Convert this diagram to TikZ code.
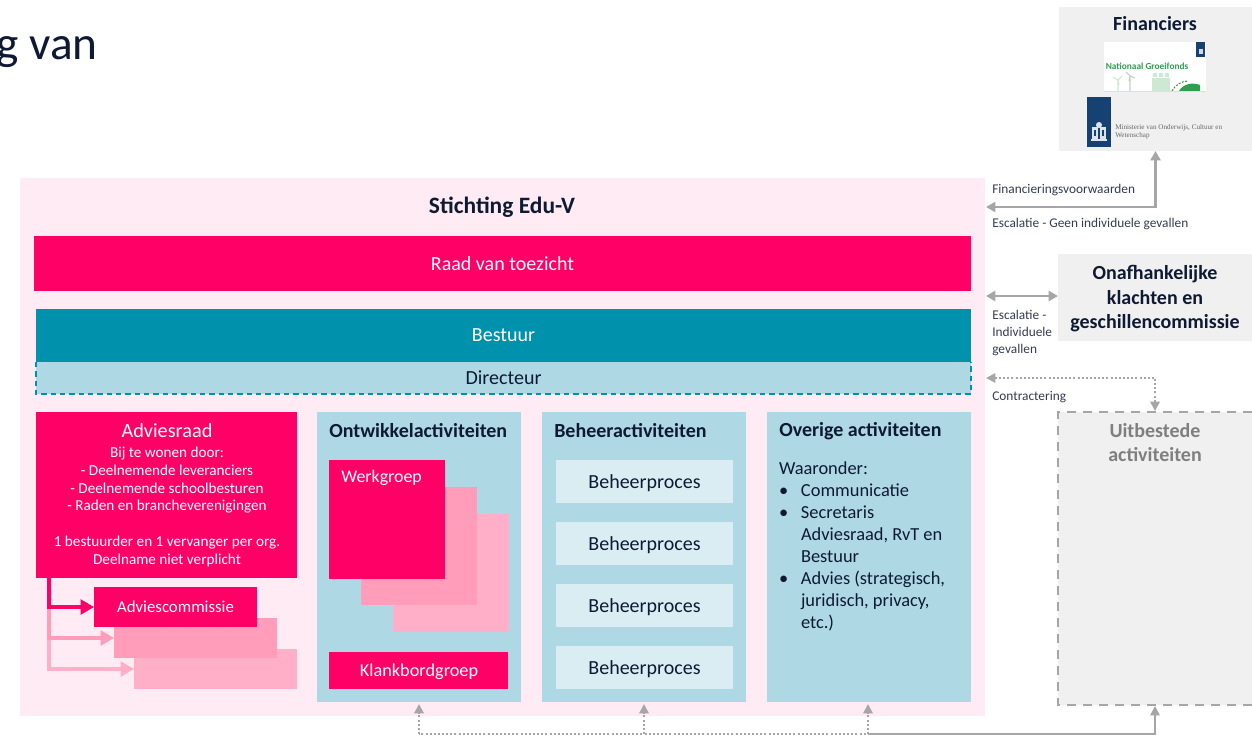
\documentclass[tikz,border=0pt]{standalone}
\usepackage{fontspec}
\setmainfont{Carlito}
\newfontfamily\logoserif{Liberation Serif}
\usetikzlibrary{arrows.meta,calc}
\definecolor{pinkbg}{HTML}{FEEBF3}
\definecolor{hot}{HTML}{FF0066}
\definecolor{hotb}{HTML}{FF9DBB}
\definecolor{hotc}{HTML}{FFAFC8}
\definecolor{teal}{HTML}{0091AC}
\definecolor{lblue}{HTML}{AED8E3}
\definecolor{pale}{HTML}{DAEDF3}
\definecolor{greybox}{HTML}{F0F0F0}
\definecolor{conn}{HTML}{A6A6A6}
\definecolor{ink}{HTML}{0E1A33}
\definecolor{nblue}{HTML}{154273}
\definecolor{ngreen}{HTML}{2E9E4F}
\definecolor{lgreen}{HTML}{CDE8D3}
\definecolor{uitgrey}{HTML}{7F7F7F}
\tikzset{
  x=0.75pt,y=-0.75pt,
  block/.style={draw=none,inner sep=0pt,outer sep=0pt,anchor=north west},
  txt/.style={text=ink,inner sep=0pt,outer sep=0pt},
  fs15/.style={font=\fontsize{15}{17}\selectfont},
  hd/.style={text=ink,inner sep=0pt,font=\fontsize{15}{17}\selectfont\bfseries},
  note/.style={text=ink!85,inner sep=0pt,anchor=west,align=left,font=\fontsize{10}{12.4}\selectfont},
  solidc/.style={draw=conn,line width=2pt,{Triangle[length=7pt,width=7.5pt]}-{Triangle[length=7pt,width=7.5pt]}},
  dotc/.style={draw=conn,line width=1.5pt,dash pattern=on 1.5pt off 1.6pt,{Triangle[length=7pt,width=7pt]}-{Triangle[length=7pt,width=7pt]}},
  dotup/.style={draw=conn,line width=1.5pt,dash pattern=on 1.5pt off 1.6pt,-{Triangle[length=7pt,width=7pt]}},
  busline/.style={draw=conn,line width=1.5pt,dash pattern=on 1.5pt off 1.6pt},
  pinkarrow/.style={line width=3pt,-{Triangle[length=10pt,width=11pt]}},
}
\begin{document}
\begin{tikzpicture}
\useasboundingbox (0,0) rectangle (1252,735);
% clipped heading
\begin{scope}
\clip (0,0) rectangle (1252,735);
\node[text=ink,inner sep=0pt,anchor=base east,font=\fontsize{35.5}{40}\selectfont] (heading) at (98,60) {g van};
\end{scope}
% main pink panel
\fill[pinkbg] (20,178) rectangle (985,716);
\coordinate (stichting) at (502,207);
\node[hd,font=\fontsize{17.6}{20}\selectfont\bfseries] (title) at (stichting) {Stichting Edu-V};
\node[block,fill=hot,minimum width=937*0.75pt,minimum height=55*0.75pt] (raad) at (34,236) {};
\node[text=white,fs15,inner sep=0pt] (raadt) at (raad) {Raad van toezicht};
\node[block,fill=teal,minimum width=935*0.75pt,minimum height=53*0.75pt] (bestuur) at (36,309) {};
\node[text=white,fs15,inner sep=0pt] (bestuurt) at (bestuur) {Bestuur};
\node[block,fill=lblue,minimum width=935*0.75pt,minimum height=32*0.75pt] (dir) at (36,362) {};
\draw[teal,line width=1pt,dash pattern=on 4pt off 3pt] (dir.north west) -- (dir.south west) -- (dir.south east) -- (dir.north east);
\node[txt,fs15] (dirt) at (dir) {Directeur};
% Adviesraad
\node[block,fill=hotc,minimum width=163*0.75pt,minimum height=40*0.75pt] (ac3) at (134,649) {};
\node[block,fill=hotb,minimum width=163*0.75pt,minimum height=40*0.75pt] (ac2) at (114,618) {};
\node[block,fill=hot,minimum width=163*0.75pt,minimum height=40*0.75pt] (ac1) at (94,587) {};
\node[text=white,inner sep=0pt] (ac1t) at (ac1) {\fontsize{12.6}{15}\selectfont Adviescommissie};
\node[block,fill=hot,minimum width=261*0.75pt,minimum height=166*0.75pt] (adv) at (36,412) {};
\node[text=white,inner sep=0pt,anchor=north,align=center,font=\fontsize{11.4}{13.35}\selectfont] (advt) at (167,423)
 {{\fontsize{15.2}{18}\selectfont Adviesraad}\\[1.8pt]Bij te wonen door:\\- Deelnemende leveranciers\\- Deelnemende schoolbesturen\\- Raden en brancheverenigingen\\[13.35pt]1 bestuurder en 1 vervanger per org.\\Deelname niet verplicht};
\coordinate (fork) at (49,578);
\coordinate (forkb) at (49,605);
\draw[hotc,pinkarrow] (forkb) |- (ac3.west);
\draw[hotb,pinkarrow] (forkb) |- (ac2.west);
\draw[hot,pinkarrow] (fork) |- (ac1.west);
% Ontwikkel
\node[block,fill=lblue,minimum width=204*0.75pt,minimum height=290*0.75pt] (ont) at (317,412) {};
\node[hd,anchor=west] (ontt) at (329,431) {Ontwikkelactiviteiten};
\node[block,fill=hotc,minimum width=116*0.75pt,minimum height=118*0.75pt] (wg3) at (393,514) {};
\node[block,fill=hotb,minimum width=116*0.75pt,minimum height=118*0.75pt] (wg2) at (361,487) {};
\node[block,fill=hot,minimum width=116*0.75pt,minimum height=119*0.75pt] (wg1) at (329,460) {};
\node[text=white,inner sep=0pt,anchor=west] (wgt) at (341,478) {\fontsize{13.4}{15}\selectfont Werkgroep};
\node[block,fill=hot,minimum width=179*0.75pt,minimum height=37*0.75pt] (klank) at (329,652) {};
\node[text=white,inner sep=0pt] (klankt) at (419,672) {\fontsize{13.7}{15}\selectfont Klankbordgroep};
% Beheer
\node[block,fill=lblue,minimum width=204*0.75pt,minimum height=290*0.75pt] (beh) at (542,412) {};
\node[hd,anchor=west] (beht) at (554,431) {Beheeractiviteiten};
\node[block,fill=pale,minimum width=177*0.75pt,minimum height=43*0.75pt] (bp1) at (556,460) {};
\node[block,fill=pale,minimum width=177*0.75pt,minimum height=43*0.75pt] (bp2) at (556,522) {};
\node[block,fill=pale,minimum width=177*0.75pt,minimum height=43*0.75pt] (bp3) at (556,584) {};
\node[block,fill=pale,minimum width=177*0.75pt,minimum height=43*0.75pt] (bp4) at (556,646) {};
\foreach \n in {1,2,3,4}{\node[txt,fs15,yshift=-1pt] (bpt\n) at (bp\n) {Beheerproces};}
% Overige
\node[block,fill=lblue,minimum width=204*0.75pt,minimum height=290*0.75pt] (ove) at (767,412) {};
\node[hd,anchor=west] (ovet) at (779,431) {Overige activiteiten};
\node[txt,anchor=north west,font=\fontsize{13.8}{16.5}\selectfont] (ovel) at (779,459)
 {\begin{tabular}{@{}p{16.5pt}@{}l@{}}
  \multicolumn{2}{@{}l}{Waaronder:}\\
  •&Communicatie\\
  •&Secretaris\\
  &Adviesraad, RvT en\\
  &Bestuur\\
  •&Advies (strategisch,\\
  &juridisch, privacy,\\
  &etc.)
  \end{tabular}};
% Financiers
\node[block,fill=greybox,minimum width=193*0.75pt,minimum height=144*0.75pt] (fin) at (1059,7) {};
\node[hd] (fint) at (1155,24) {Financiers};
\node[block,fill=white,minimum width=102*0.75pt,minimum height=50*0.75pt] (ngf) at (1104,42) {};
\fill[nblue] (1196,42) rectangle (1205,57);
\fill[white!80!nblue] (1198.5,49) rectangle (1202.5,54);
\node[text=ngreen,inner sep=0pt,font=\fontsize{7}{8}\selectfont\bfseries] (ngft) at (1147,66) {Nationaal Groeifonds};
% windmills, figures and hill
\draw[lgreen,line width=0.8pt] (1118,91) -- (1118,80) (1118,80) -- (1113,77) (1118,80) -- (1122,76) (1118,80) -- (1119,85);
\draw[lgreen!80!gray,line width=0.8pt] (1130,91) -- (1130,76) (1130,76) -- (1126,72) (1130,76) -- (1135,78) (1130,76) -- (1129,81);
\foreach \px in {1155,1161,1167}{
 \fill[lgreen] (\px-3,78) rectangle (\px+3,91);
 \fill[lgreen] (\px,75) circle (2.4);
}
\fill[ngreen] (1179,91) .. controls (1183,84) and (1192,82) .. (1200,85) -- (1200,91) -- cycle;
\draw[ngreen,line width=0.8pt,dash pattern=on 1.5pt off 1pt] (1172,91) .. controls (1175,85) and (1182,81) .. (1188,81);
\draw[lgreen,line width=0.7pt] (1104,91.5) -- (1206,91.5);
\node[block,fill=nblue,minimum width=24*0.75pt,minimum height=50*0.75pt] (moc) at (1087,97) {};
% emblem: two shields under a crown
\fill[white!85!nblue] (1092,127) rectangle (1098,139);
\fill[white!85!nblue] (1100,127) rectangle (1106,139);
\fill[white!85!nblue] (1099,125) circle (3);
\fill[white!85!nblue] (1091,139) rectangle (1107,141);
\fill[nblue] (1094,130) rectangle (1096,136);
\fill[nblue] (1102,130) rectangle (1104,136);
\node[text=black!60,inner sep=0pt,anchor=west,align=left,font=\logoserif\fontsize{5.35}{6}\selectfont] (moct) at (1115,132) {Ministerie van Onderwijs, Cultuur en\\Wetenschap};
% Onafhankelijke
\node[block,fill=greybox,minimum width=194*0.75pt,minimum height=87*0.75pt] (ona) at (1058,254) {};
\node[text=ink,inner sep=0pt,align=center,font=\fontsize{15}{18.2}\selectfont\bfseries,yshift=-0.8pt] (onat) at (ona) {Onafhankelijke\\klachten en\\geschillencommissie};
% Uitbestede
\fill[greybox] (1058,412) rectangle (1252,705);
\draw[conn,line width=2pt,dash pattern=on 7pt off 5pt] (1252,412) -- (1058,412) -- (1058,705) -- (1252,705);
\node[text=uitgrey,inner sep=0pt,align=center,font=\fontsize{15}{18}\selectfont\bfseries] (uit) at (1155,443) {Uitbestede\\activiteiten};
\coordinate (uitn) at (1155,411);
\coordinate (uits) at (1155,706);
% free ends at the pink panel
\coordinate (pf) at (986,207);
\coordinate (pe) at (986,296);
\coordinate (pc) at (986,378);
\coordinate (a1) at (419,704);
\coordinate (a2) at (644,704);
\coordinate (a3) at (868,704);
\coordinate (b1) at (419,734);
\coordinate (b2) at (644,734);
\coordinate (b3) at (868,734);
\coordinate (b4) at (1155,734);
% connectors
\draw[solidc] (fin.south) |- (pf);
\draw[solidc] (pe) -- (ona.west |- pe);
\draw[dotc] (pc) -| (uitn);
\draw[dotup] (b2) -- (a2);
\draw[dotup] (b3) -- (a3);
\draw[busline] (b4) -- (b1);
\draw[dotup] (b1) -- (a1);
\draw[conn,line width=1.2pt,-{Triangle[length=7pt,width=7pt]}] (b3) -- (b4) -- (uits);
% labels
\node[note] (l1) at (992,190) {Financieringsvoorwaarden};
\node[note] (l2) at (992,224) {Escalatie - Geen individuele gevallen};
\node[note] (l3) at (992,333) {Escalatie -\\Individuele\\gevallen};
\node[note] (l4) at (992,397) {Contractering};
\end{tikzpicture}
\end{document}
